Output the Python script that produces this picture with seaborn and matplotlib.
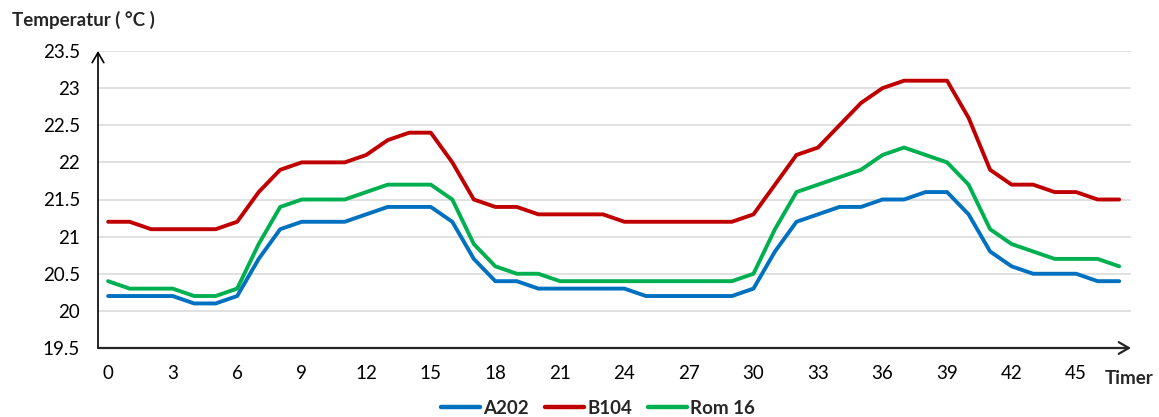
import numpy as np
import pandas as pd
import matplotlib
matplotlib.use("Agg")
import matplotlib.pyplot as plt
import seaborn as sns

hours = list(range(48))

a202 = [20.2, 20.2, 20.2, 20.2, 20.1, 20.1, 20.2, 20.7, 21.1, 21.2, 21.2, 21.2,
        21.3, 21.4, 21.4, 21.4, 21.2, 20.7, 20.4, 20.4, 20.3, 20.3, 20.3, 20.3,
        20.3, 20.2, 20.2, 20.2, 20.2, 20.2, 20.3, 20.8, 21.2, 21.3, 21.4, 21.4,
        21.5, 21.5, 21.6, 21.6, 21.3, 20.8, 20.6, 20.5, 20.5, 20.5, 20.4, 20.4]

b104 = [21.2, 21.2, 21.1, 21.1, 21.1, 21.1, 21.2, 21.6, 21.9, 22.0, 22.0, 22.0,
        22.1, 22.3, 22.4, 22.4, 22.0, 21.5, 21.4, 21.4, 21.3, 21.3, 21.3, 21.3,
        21.2, 21.2, 21.2, 21.2, 21.2, 21.2, 21.3, 21.7, 22.1, 22.2, 22.5, 22.8,
        23.0, 23.1, 23.1, 23.1, 22.6, 21.9, 21.7, 21.7, 21.6, 21.6, 21.5, 21.5]

rom16 = [20.4, 20.3, 20.3, 20.3, 20.2, 20.2, 20.3, 20.9, 21.4, 21.5, 21.5, 21.5,
         21.6, 21.7, 21.7, 21.7, 21.5, 20.9, 20.6, 20.5, 20.5, 20.4, 20.4, 20.4,
         20.4, 20.4, 20.4, 20.4, 20.4, 20.4, 20.5, 21.1, 21.6, 21.7, 21.8, 21.9,
         22.1, 22.2, 22.1, 22.0, 21.7, 21.1, 20.9, 20.8, 20.7, 20.7, 20.7, 20.6]

series_names = ["A202", "B104", "Rom 16"]
series_colors = ["#0070C0", "#C00000", "#00B050"]
x_ticks = list(range(0, 46, 3))
y_ticks = [19.5, 20, 20.5, 21, 21.5, 22, 22.5, 23, 23.5]

df = pd.DataFrame({
    "Timer": hours * 3,
    "Temperatur": a202 + b104 + rom16,
    "Rom": [series_names[0]] * 48 + [series_names[1]] * 48 + [series_names[2]] * 48,
})

sns.set_theme(style="white")
plt.rcParams["font.family"] = ["Lato", "DejaVu Sans"]

FS = 13.5

fig = plt.figure(figsize=(11.59, 4.17), dpi=100)
ax = fig.add_axes([98 / 1159, 1 - 348 / 417, (1131 - 98) / 1159, (348 - 51) / 417])

sns.lineplot(data=df, x="Timer", y="Temperatur", hue="Rom",
             hue_order=series_names, palette=series_colors,
             linewidth=2.8, ax=ax, legend=True)

ax.set_xlim(-0.47, 47.55)
ax.set_ylim(19.5, 23.5)
ax.set_xticks(x_ticks)
ax.set_yticks(y_ticks)
ax.set_xticklabels([str(t) for t in x_ticks])
ax.set_yticklabels([f"{v:g}" for v in y_ticks])
ax.tick_params(axis="both", length=0, labelsize=FS, colors="#000000")
ax.tick_params(axis="x", pad=12)
ax.tick_params(axis="y", pad=13)

ax.grid(axis="y", color="#D9D9D9", linewidth=1.1)
ax.grid(axis="x", visible=False)
ax.set_axisbelow(True)
for side in ["top", "right", "left", "bottom"]:
    ax.spines[side].set_visible(False)

# axis lines with open arrowheads
ax.annotate("", xy=(0, 1.0), xytext=(0, 0), xycoords="axes fraction",
            arrowprops=dict(arrowstyle="->,head_length=0.6,head_width=0.35",
                            color="#000000", lw=1.2, shrinkA=0, shrinkB=0))
ax.annotate("", xy=(1.0, 0), xytext=(0, 0), xycoords="axes fraction",
            arrowprops=dict(arrowstyle="->,head_length=0.6,head_width=0.35",
                            color="#262626", lw=1.6, shrinkA=0, shrinkB=0))

ax.set_xlabel("")
ax.set_ylabel("")
fig.text(12 / 1159, 1 - 20 / 417, "Temperatur ( °C )", fontsize=FS,
         fontweight="bold", ha="left", va="center")
fig.text(1105 / 1159, 1 - 379 / 417, "Timer", fontsize=FS,
         fontweight="bold", ha="left", va="center")

handles, labels = ax.get_legend_handles_labels()
for h in handles:
    h.set_linewidth(3.2)
leg = ax.legend(handles, labels, loc="center", bbox_to_anchor=(598 / 1159, 1 - 408 / 417),
                bbox_transform=fig.transFigure, ncol=3, frameon=False,
                handlelength=2.1, handletextpad=0.15, columnspacing=0.85,
                prop={"weight": "bold", "size": FS})

fig.savefig("out.png", dpi=100)
